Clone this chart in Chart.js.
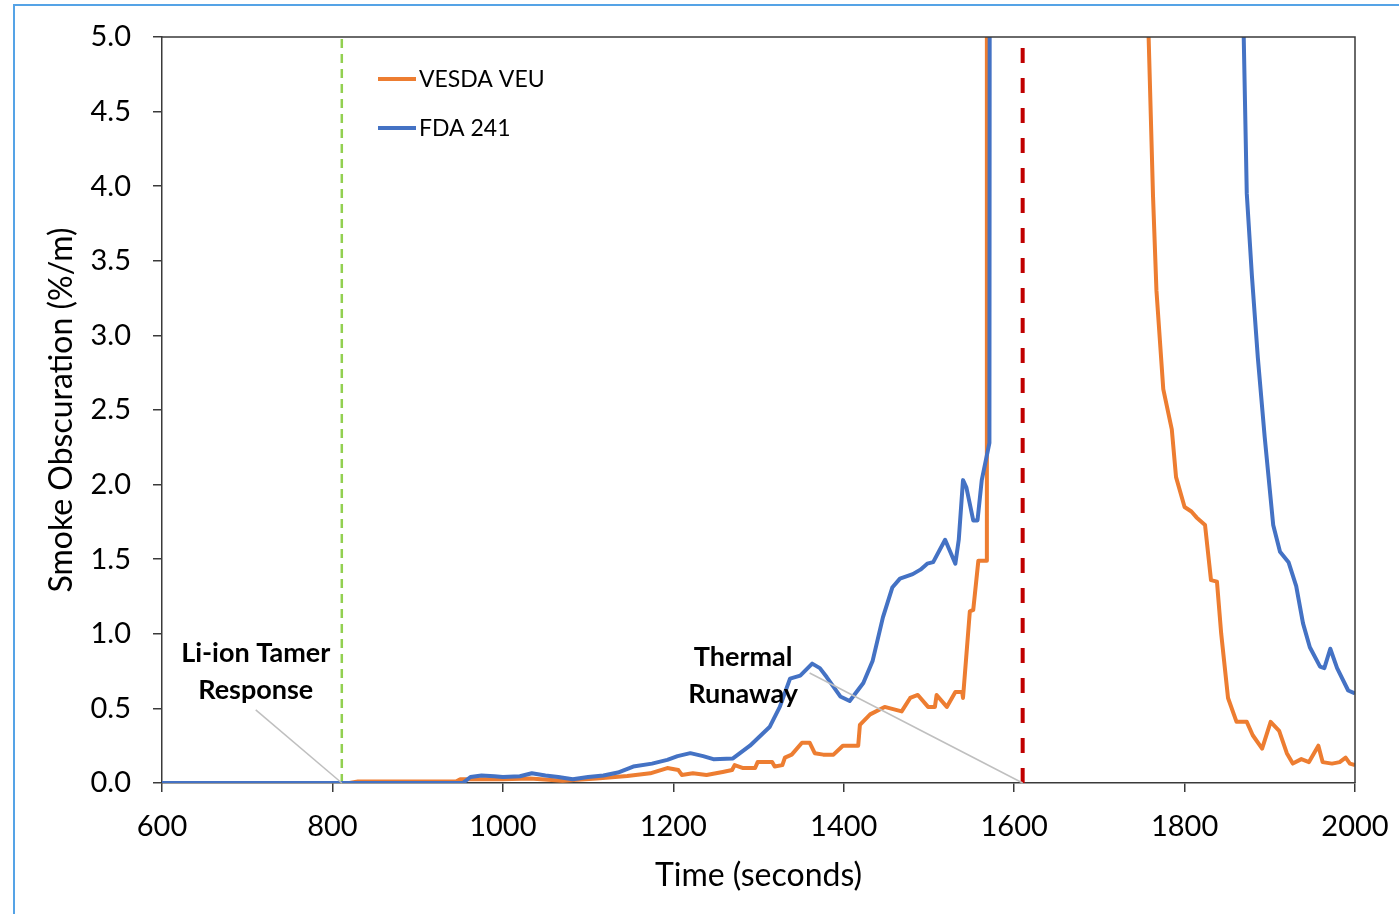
<!DOCTYPE html>
<html>
<head>
<meta charset="utf-8">
<script src="https://cdn.jsdelivr.net/npm/chart.js@4.4.1/dist/chart.umd.min.js"></script>
<style>
  html, body { margin: 0; padding: 0; background: #fff; }
  canvas { display: block; }
</style>
</head>
<body>
<canvas id="grafico" width="1399" height="914"></canvas>
<script>
// ================== DADOS ==================
const vesdaTime = [600, 820, 830, 945, 950, 1000, 1032, 1070, 1110, 1146, 1173, 1193, 1206, 1210, 1223, 1239, 1258, 1269, 1272, 1282, 1296, 1299, 1316, 1319, 1328, 1331, 1339, 1351, 1360, 1366, 1376, 1388, 1399, 1417, 1419, 1431, 1448, 1468, 1478, 1487, 1499, 1507, 1509, 1521, 1531, 1539, 1540, 1548, 1552, 1558, 1567, 1568, 1650, 1752, 1763, 1767, 1775, 1785, 1790, 1800, 1808, 1814, 1824, 1831, 1838, 1843, 1851, 1861, 1873, 1880, 1891, 1901, 1911, 1920, 1927, 1937, 1946, 1957, 1962, 1973, 1982, 1989, 1994, 2000];
const vesdaValue = [0, 0, 0.01, 0.01, 0.025, 0.025, 0.03, 0.015, 0.03, 0.047, 0.065, 0.10, 0.087, 0.054, 0.065, 0.054, 0.074, 0.087, 0.12, 0.10, 0.10, 0.14, 0.14, 0.11, 0.12, 0.17, 0.19, 0.27, 0.27, 0.20, 0.19, 0.19, 0.25, 0.25, 0.39, 0.46, 0.51, 0.48, 0.57, 0.59, 0.51, 0.51, 0.59, 0.51, 0.61, 0.61, 0.57, 1.15, 1.16, 1.49, 1.49, 12, 15, 6.2, 3.93, 3.3, 2.64, 2.37, 2.05, 1.85, 1.82, 1.78, 1.73, 1.36, 1.35, 1.0, 0.57, 0.41, 0.41, 0.32, 0.23, 0.41, 0.35, 0.2, 0.13, 0.16, 0.14, 0.25, 0.14, 0.13, 0.14, 0.17, 0.13, 0.12];

const fdaTime = [600, 953, 962, 975, 990, 1000, 1020, 1034, 1050, 1065, 1082, 1100, 1118, 1135, 1153, 1175, 1193, 1205, 1220, 1235, 1247, 1270, 1290, 1313, 1325, 1337, 1349, 1363, 1372, 1380, 1396, 1407, 1423, 1434, 1446, 1457, 1466, 1481, 1490, 1498, 1505, 1519, 1531, 1535, 1540, 1544, 1552, 1557, 1562, 1571, 1572, 1700, 1866, 1873, 1879, 1886, 1894, 1904, 1912, 1922, 1931, 1939, 1947, 1959, 1964, 1971, 1979, 1992, 2000];
const fdaValue = [0, 0, 0.04, 0.05, 0.045, 0.04, 0.045, 0.065, 0.05, 0.04, 0.025, 0.04, 0.05, 0.07, 0.11, 0.13, 0.155, 0.18, 0.2, 0.18, 0.16, 0.165, 0.25, 0.375, 0.51, 0.70, 0.72, 0.80, 0.77, 0.71, 0.58, 0.55, 0.67, 0.82, 1.11, 1.31, 1.37, 1.40, 1.43, 1.47, 1.48, 1.63, 1.47, 1.63, 2.03, 1.98, 1.76, 1.76, 2.03, 2.28, 12, 15, 6.0, 3.95, 3.4, 2.85, 2.32, 1.73, 1.55, 1.48, 1.32, 1.07, 0.91, 0.78, 0.77, 0.9, 0.77, 0.62, 0.6];

// linhas verticais de evento
const tamerTime = 811;
const runawayTime = 1610;

// eixos
const xTicks = [600, 800, 1000, 1200, 1400, 1600, 1800, 2000];
const yTicks = [0, 0.5, 1, 1.5, 2, 2.5, 3, 3.5, 4, 4.5, 5];

const legendLabels = ["VESDA VEU", "FDA 241"];

// anotações: texto, posição do texto, início e fim da linha guia (em unidades do gráfico)
const notas = [
  { linhas: ["Li-ion Tamer", "Response"], x: 710, y: 0.87, de: [710, 0.49], para: [tamerTime, 0] },
  { linhas: ["Thermal", "Runaway"], x: 1282, y: 0.845, de: [1360, 0.737], para: [runawayTime, 0] }
];

// ================== CORES ==================
const corVesda = "#ED7D31";
const corFda = "#4472C4";
const corEixo = "#3a3a3a";
const fonte = "Lato, 'Open Sans', sans-serif";

function pares(xs, ys) {
  return xs.map((x, i) => ({ x: x, y: ys[i] }));
}

// ================== PLUGIN DE DECORAÇÃO ==================
const decoracao = {
  id: "decoracao",
  beforeDraw(chart) {
    const c = chart.ctx;
    c.save();
    c.fillStyle = "#fff";
    c.fillRect(0, 0, chart.width, chart.height);
    c.strokeStyle = "#55a3e6";
    c.lineWidth = 2;
    c.strokeRect(14, 5, chart.width + 10, chart.height + 10);
    c.restore();
  },
  afterDraw(chart) {
    const c = chart.ctx;
    const a = chart.chartArea;
    const sx = chart.scales.x;
    const sy = chart.scales.y;
    c.save();

    // moldura da área do gráfico (topo e direita)
    c.strokeStyle = corEixo;
    c.lineWidth = 1.5;
    c.beginPath();
    c.moveTo(a.left, a.top);
    c.lineTo(a.right, a.top);
    c.lineTo(a.right, a.bottom);
    c.stroke();

    // linhas guia das anotações
    c.strokeStyle = "#bfbfbf";
    c.lineWidth = 1.5;
    notas.forEach(n => {
      c.beginPath();
      c.moveTo(sx.getPixelForValue(n.de[0]), sy.getPixelForValue(n.de[1]));
      c.lineTo(sx.getPixelForValue(n.para[0]), sy.getPixelForValue(n.para[1]));
      c.stroke();
    });

    // texto das anotações
    c.fillStyle = "#000";
    c.font = "bold 27px " + fonte;
    c.textAlign = "center";
    c.textBaseline = "middle";
    notas.forEach(n => {
      const px = sx.getPixelForValue(n.x);
      const py = sy.getPixelForValue(n.y);
      n.linhas.forEach((t, i) => c.fillText(t, px, py + i * 37));
    });

    // legenda
    const cores = [corVesda, corFda];
    c.font = "23px " + fonte;
    c.textAlign = "left";
    legendLabels.forEach((lab, i) => {
      const ly = a.top + 42 + i * 49;
      c.strokeStyle = cores[i];
      c.lineWidth = 4;
      c.beginPath();
      c.moveTo(a.left + 216, ly);
      c.lineTo(a.left + 254, ly);
      c.stroke();
      c.fillStyle = "#000";
      c.fillText(lab, a.left + 257, ly + 1);
    });

    // títulos dos eixos
    c.font = "32px " + fonte;
    c.textAlign = "center";
    c.fillText("Time (seconds)", (a.left + a.right) / 2, 876);
    c.translate(62, (a.top + a.bottom) / 2);
    c.rotate(-Math.PI / 2);
    c.font = "32px " + fonte;
    c.fillText("Smoke Obscuration (%/m)", 0, 0);
    c.restore();
  }
};

// ================== GRÁFICO ==================
const ctx = document.getElementById("grafico").getContext("2d");
const grafico = new Chart(ctx, {
  type: "scatter",
  data: {
    datasets: [
      {
        label: "FDA 241",
        data: pares(fdaTime, fdaValue),
        showLine: true,
        borderColor: corFda,
        borderWidth: 4,
        borderJoinStyle: "round",
        pointRadius: 0,
        clip: 0,
        order: 1
      },
      {
        label: "VESDA VEU",
        data: pares(vesdaTime, vesdaValue),
        showLine: true,
        borderColor: corVesda,
        borderWidth: 4,
        borderJoinStyle: "round",
        pointRadius: 0,
        clip: 0,
        order: 2
      },
      {
        label: "Li-ion Tamer",
        data: [{ x: tamerTime, y: 0 }, { x: tamerTime, y: 5 }],
        showLine: true,
        borderColor: "#92D050",
        borderWidth: 2.5,
        borderDash: [9, 6],
        pointRadius: 0,
        order: 3
      },
      {
        label: "Thermal Runaway",
        data: [{ x: runawayTime, y: 0 }, { x: runawayTime, y: 4.93 }],
        showLine: true,
        borderColor: "#C00000",
        borderWidth: 4,
        borderDash: [15, 15],
        pointRadius: 0,
        order: 3
      }
    ]
  },
  options: {
    responsive: false,
    animation: false,
    layout: { padding: { left: 0, top: 37, right: 44, bottom: 0 } },
    plugins: {
      legend: { display: false },
      tooltip: { enabled: false }
    },
    scales: {
      x: {
        type: "linear",
        min: 600,
        max: 2000,
        afterBuildTicks: s => { s.ticks = xTicks.map(v => ({ value: v })); },
        afterFit: s => { s.height = 131; s.paddingLeft = 0; s.paddingRight = 0; },
        grid: { drawOnChartArea: false, drawTicks: true, tickLength: 9, color: corEixo, lineWidth: 1.5 },
        border: { display: true, color: corEixo, width: 1.5 },
        ticks: {
          padding: 17,
          color: "#000",
          font: { family: fonte, size: 29 },
          maxRotation: 0,
          callback: v => String(v)
        }
      },
      y: {
        type: "linear",
        min: 0,
        max: 5,
        afterBuildTicks: s => { s.ticks = yTicks.map(v => ({ value: v })); },
        afterFit: s => { s.width = 162; s.paddingTop = 0; s.paddingBottom = 0; },
        grid: { drawOnChartArea: false, drawTicks: true, tickLength: 9, color: corEixo, lineWidth: 1.5 },
        border: { display: true, color: corEixo, width: 1.5 },
        ticks: {
          padding: 22,
          color: "#000",
          font: { family: fonte, size: 29 },
          callback: v => Number(v).toFixed(1)
        }
      }
    }
  },
  plugins: [decoracao]
});
</script>
</body>
</html>
